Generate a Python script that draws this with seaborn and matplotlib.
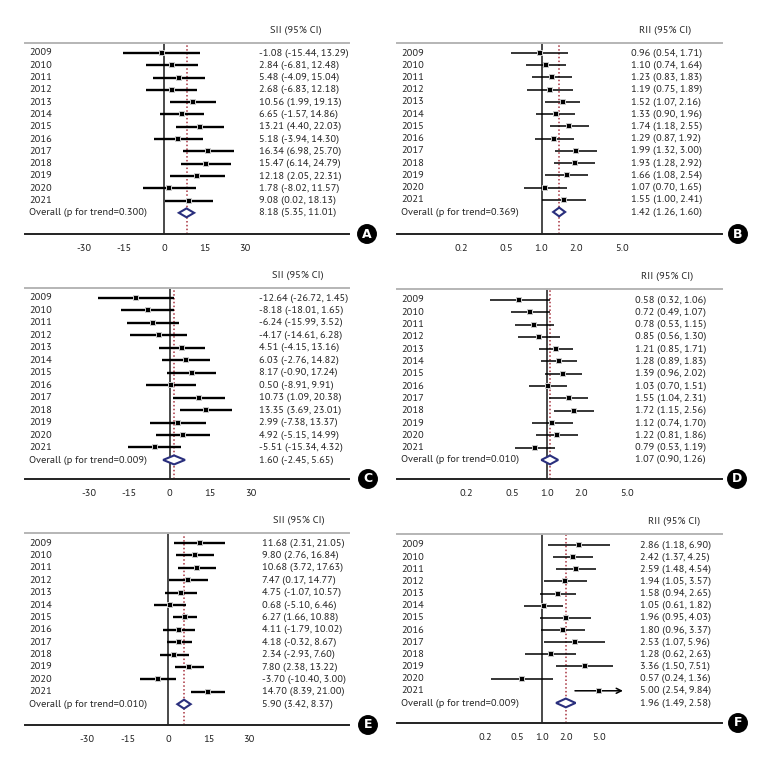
import numpy as np
import pandas as pd
import matplotlib.pyplot as plt
import matplotlib.transforms as mtransforms
from matplotlib import font_manager
from matplotlib.patches import Polygon
import seaborn as sns

years = list(range(2009, 2022))

# A: SII
a_est = [-1.08, 2.84, 5.48, 2.68, 10.56, 6.65, 13.21, 5.18, 16.34, 15.47, 12.18, 1.78, 9.08]
a_lo = [-15.44, -6.81, -4.09, -6.83, 1.99, -1.57, 4.40, -3.94, 6.98, 6.14, 2.05, -8.02, 0.02]
a_hi = [13.29, 12.48, 15.04, 12.18, 19.13, 14.86, 22.03, 14.30, 25.70, 24.79, 22.31, 11.57, 18.13]
a_overall = (8.18, 5.35, 11.01)
a_p = "0.300"

# B: RII
b_est = [0.96, 1.10, 1.23, 1.19, 1.52, 1.33, 1.74, 1.29, 1.99, 1.93, 1.66, 1.07, 1.55]
b_lo = [0.54, 0.74, 0.83, 0.75, 1.07, 0.90, 1.18, 0.87, 1.32, 1.28, 1.08, 0.70, 1.00]
b_hi = [1.71, 1.64, 1.83, 1.89, 2.16, 1.96, 2.55, 1.92, 3.00, 2.92, 2.54, 1.65, 2.41]
b_overall = (1.42, 1.26, 1.60)
b_p = "0.369"

# C: SII
c_est = [-12.64, -8.18, -6.24, -4.17, 4.51, 6.03, 8.17, 0.50, 10.73, 13.35, 2.99, 4.92, -5.51]
c_lo = [-26.72, -18.01, -15.99, -14.61, -4.15, -2.76, -0.90, -8.91, 1.09, 3.69, -7.38, -5.15, -15.34]
c_hi = [1.45, 1.65, 3.52, 6.28, 13.16, 14.82, 17.24, 9.91, 20.38, 23.01, 13.37, 14.99, 4.32]
c_overall = (1.60, -2.45, 5.65)
c_p = "0.009"

# D: RII
d_est = [0.58, 0.72, 0.78, 0.85, 1.21, 1.28, 1.39, 1.03, 1.55, 1.72, 1.12, 1.22, 0.79]
d_lo = [0.32, 0.49, 0.53, 0.56, 0.85, 0.89, 0.96, 0.70, 1.04, 1.15, 0.74, 0.81, 0.53]
d_hi = [1.06, 1.07, 1.15, 1.30, 1.71, 1.83, 2.02, 1.51, 2.31, 2.56, 1.70, 1.86, 1.19]
d_overall = (1.07, 0.90, 1.26)
d_p = "0.010"

# E: SII
e_est = [11.68, 9.80, 10.68, 7.47, 4.75, 0.68, 6.27, 4.11, 4.18, 2.34, 7.80, -3.70, 14.70]
e_lo = [2.31, 2.76, 3.72, 0.17, -1.07, -5.10, 1.66, -1.79, -0.32, -2.93, 2.38, -10.40, 8.39]
e_hi = [21.05, 16.84, 17.63, 14.77, 10.57, 6.46, 10.88, 10.02, 8.67, 7.60, 13.22, 3.00, 21.00]
e_overall = (5.90, 3.42, 8.37)
e_p = "0.010"

# F: RII
f_est = [2.86, 2.42, 2.59, 1.94, 1.58, 1.05, 1.96, 1.80, 2.53, 1.28, 3.36, 0.57, 5.00]
f_lo = [1.18, 1.37, 1.48, 1.05, 0.94, 0.61, 0.95, 0.96, 1.07, 0.62, 1.50, 0.24, 2.54]
f_hi = [6.90, 4.25, 4.54, 3.57, 2.65, 1.82, 4.03, 3.37, 5.96, 2.63, 7.51, 1.36, 9.84]
f_overall = (1.96, 1.49, 2.58)
f_p = "0.009"

sii_ticks = [-30, -15, 0, 15, 30]
rii_ticks = [0.2, 0.5, 1.0, 2.0, 5.0]

sns.set_theme(style='white')


# want a regular-weight static face (variable fonts render at their default, often light)
def usable(name):
    for f in font_manager.fontManager.ttflist:
        if (f.name == name and f.style == 'normal' and f.weight in (400, 'normal', 'regular')
                and '[' not in f.fname and 'Variable' not in f.fname):
            return True
    return False


font_choices = [('Source Sans Pro', 7.8), ('Source Sans 3', 7.8), ('PT Sans', 7.5),
                ('Fira Sans', 7.2), ('Liberation Sans', 7.3)]
FONT, FS = 'DejaVu Sans', 6.8
for name, size in font_choices:
    if usable(name):
        FONT, FS = name, size
        break
plt.rcParams['font.family'] = [FONT, 'DejaVu Sans']
plt.rcParams['font.size'] = FS

W, H = 770, 766
fig = plt.figure(figsize=(W / 100, H / 100), dpi=100)


def px_axes(l, r, t, b):
    return fig.add_axes([l / W, 1 - b / H, (r - l) / W, (b - t) / H])


def panel(ax, est, lo, hi, overall, p, kind, xlim, ylim, txt_x, head_x, arrow_above=None):
    n = len(years)
    df = pd.DataFrame({'year': years, 'est': est, 'lo': lo, 'hi': hi, 'row': range(n)})
    lw = 1.7 if kind == 'SII' else 1.1
    ref = 0 if kind == 'SII' else 1.0
    if kind == 'RII':
        ax.set_xscale('log')
    ax.set_xlim(*xlim)
    ax.set_ylim(*ylim)

    ax.axvline(ref, color='#3a3a3a', lw=1.3, zorder=1)
    ax.axvline(overall[0], color='#a8323e', lw=1.1, ls=(0, (1, 1.5)), zorder=1)

    for _, r in df.iterrows():
        if arrow_above is not None and r['hi'] > arrow_above:
            ax.annotate('', xy=(r['hi'], r['row']), xytext=(r['lo'], r['row']),
                        arrowprops=dict(arrowstyle='->', lw=lw, color='black',
                                        shrinkA=0, shrinkB=0, mutation_scale=9))
        else:
            ax.plot([r['lo'], r['hi']], [r['row'], r['row']], color='black', lw=lw,
                    solid_capstyle='butt', zorder=2)

    sns.scatterplot(data=df, x='est', y='row', marker='s', s=24, color='#c8c8c8',
                    edgecolor='#c8c8c8', linewidth=0, ax=ax, zorder=3, legend=False)
    sns.scatterplot(data=df, x='est', y='row', marker='s', s=8, color='black',
                    edgecolor='black', linewidth=0, ax=ax, zorder=4, legend=False)

    est0, lo0, hi0 = overall
    yo = n
    ax.add_patch(Polygon([[lo0, yo], [est0, yo - 0.36], [hi0, yo], [est0, yo + 0.36]],
                         closed=True, fc='white', ec='#2a2f7d', lw=1.5, zorder=5))

    tr = mtransforms.blended_transform_factory(ax.transAxes, ax.transData)
    for _, r in df.iterrows():
        ax.text(0.012, r['row'], str(int(r['year'])), transform=tr, va='center', ha='left')
        ax.text(txt_x, r['row'], f"{r['est']:.2f} ({r['lo']:.2f}, {r['hi']:.2f})",
                transform=tr, va='center', ha='left')
    ax.text(0.012, yo, f"Overall (p for trend={p})", transform=tr, va='center', ha='left')
    ax.text(txt_x, yo, f"{est0:.2f} ({lo0:.2f}, {hi0:.2f})", transform=tr, va='center', ha='left')
    ax.text(head_x, 1.068, f"{kind} (95% CI)", transform=ax.transAxes, va='center', ha='center')

    ax.set_xlabel('')
    ax.set_ylabel('')
    ax.set_yticks([])
    if kind == 'SII':
        ax.set_xticks(sii_ticks)
        ax.set_xticklabels([str(t) for t in sii_ticks])
    else:
        ax.set_xticks(rii_ticks)
        ax.set_xticklabels([f"{t:.1f}" for t in rii_ticks])
        ax.xaxis.set_minor_locator(plt.NullLocator())
    ax.tick_params(axis='x', length=0, pad=7, labelsize=FS, colors='#222222')
    for s in ['left', 'right']:
        ax.spines[s].set_visible(False)
    ax.spines['top'].set_color('#b5b5b5')
    ax.spines['top'].set_linewidth(1.4)
    ax.spines['bottom'].set_color('#222222')
    ax.spines['bottom'].set_linewidth(1.4)
    ax.set_facecolor('none')


axA = px_axes(25, 349, 43, 234)
panel(axA, a_est, a_lo, a_hi, a_overall, a_p, 'SII', (-51.86, 68.59), (14.72, -0.81), 0.722, 0.836)
axB = px_axes(397, 722, 43, 234)
panel(axB, b_est, b_lo, b_hi, b_overall, b_p, 'RII', (0.056, 36.5), (14.8, -0.82), 0.72, 0.825)
axC = px_axes(25, 349, 288, 479)
panel(axC, c_est, c_lo, c_hi, c_overall, c_p, 'SII', (-53.7, 66.5), (14.53, -0.80), 0.722, 0.843)
axD = px_axes(397, 722, 289, 479)
panel(axD, d_est, d_lo, d_hi, d_overall, d_p, 'RII', (0.050, 33.5), (14.55, -0.89), 0.732, 0.83)
axE = px_axes(25, 349, 533, 725)
panel(axE, e_est, e_lo, e_hi, e_overall, e_p, 'SII', (-53.0, 67.0), (14.68, -0.81), 0.73, 0.846)
axF = px_axes(397, 722, 534, 723)
panel(axF, f_est, f_lo, f_hi, f_overall, f_p, 'RII', (0.01663, 161.7), (14.65, -0.9), 0.748, 0.852,
      arrow_above=9.0)

badges = [('A', 367, 234), ('B', 738, 234), ('C', 368, 479), ('D', 737, 479),
          ('E', 368, 725), ('F', 738, 723)]
for lab, x, y in badges:
    fig.text(x / W, 1 - y / H, lab, ha='center', va='center', color='white',
             fontweight='bold', fontsize=9, family=['DejaVu Sans'],
             bbox=dict(boxstyle='circle,pad=0.22', fc='black', ec='black'))

fig.savefig('out.png', dpi=100, facecolor='white')
